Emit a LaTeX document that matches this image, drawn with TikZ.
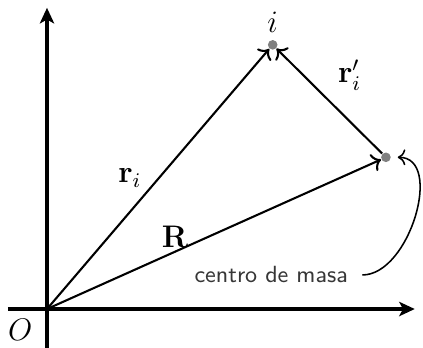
\documentclass[tikz,border=0pt]{standalone}
\usepackage{amsmath}
\usepackage{tikz}
\usetikzlibrary{arrows.meta,positioning,calc}
\definecolor{dotgray}{RGB}{128,128,128}
\definecolor{notegray}{RGB}{55,55,55}

\begin{document}
\begin{tikzpicture}[
  axis/.style={very thick, -{Stealth[length=6pt, width=5.5pt, inset=1.5pt]}},
  vec/.style={thick, ->},
  dot/.style={circle, fill=dotgray, inner sep=0pt, minimum size=0.13cm},
  lbl/.style={font=\large},
  note/.style={font=\small\sffamily, text=notegray},
  callout/.style={semithick, ->, shorten <=2pt, shorten >=2.5pt}
]
\useasboundingbox (-0.635,-0.514) rectangle (5.081,4.176);
\coordinate (O) at (0,0);
\coordinate (xl) at (-0.53,0);
\coordinate (xr) at (4.97,0);
\coordinate (yb) at (0,-0.52);
\coordinate (yt) at (0,4.07);
\node[dot] (i) at (3.05,3.57) {};
\node[dot] (cm) at (4.58,2.05) {};

% ejes
\draw[axis] (xl) -- (xr);
\draw[axis] (yb) -- (yt);
\node[lbl] (lO) at (-0.36,-0.28) {$O$};

% vectores
\draw[vec] (O) -- (i);
\draw[vec] (O) -- (cm);
\draw[vec] (cm) -- (i);
\node[lbl, above=-1pt of i] (li) {$i$};
\node[lbl] (lri) at (1.12,1.77) {$\mathbf{r}_i$};
\node[lbl] (lR) at (1.73,0.97) {$\mathbf{R}$};
\node[lbl] (lrp) at (4.09,3.16) {$\mathbf{r}'_i$};

% centro de masa
\node[note] (masa) at (3.03,0.46) {centro de masa};
\draw[callout] (masa.east) to[out=0, in=0, looseness=1.1] (cm.east);
\end{tikzpicture}
\end{document}
